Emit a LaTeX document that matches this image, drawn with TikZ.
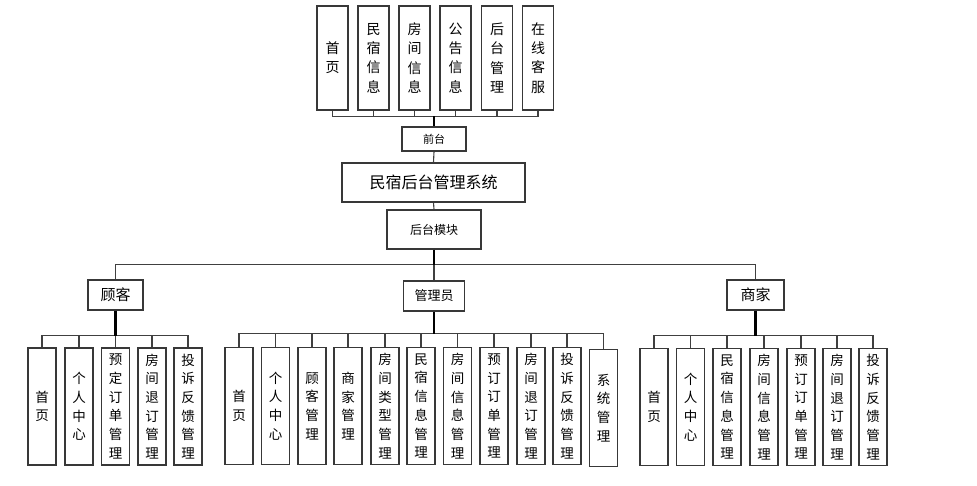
\documentclass[tikz,border=0pt]{standalone}
\usepackage{fontspec}
\newfontfamily\cjk{Noto Sans CJK SC}
\begin{document}
\begin{tikzpicture}[x=1pt,y=-1pt,
  box/.style={draw=black!78, line width=1.3pt, fill=white, inner sep=0pt, align=center},
  tbox/.style={box, minimum width=31pt, minimum height=104pt, font=\cjk\fontsize{14}{19.3}\selectfont},
  sbox/.style={box, minimum width=28pt, minimum height=117pt, font=\cjk\fontsize{13.5}{18.7}\selectfont},
  link/.style={draw=black!75, line width=1.1pt},
  trunk/.style={draw=black, line width=2.2pt}]
\useasboundingbox (0,0) rectangle (977,485);
% top row
\node[tbox] (t1) at (332.5,58) {首\\页};
\node[tbox] (t2) at (373.5,58) {民\\宿\\信\\息};
\node[tbox] (t3) at (414.5,58) {房\\间\\信\\息};
\node[tbox] (t4) at (455.5,58) {公\\告\\信\\息};
\node[tbox] (t5) at (497,58) {后\\台\\管\\理};
\node[tbox] (t6) at (538,58) {在\\线\\客\\服};
\node[box, minimum width=64pt, minimum height=24pt, font=\cjk\fontsize{11}{13}\selectfont] (qt) at (434,139) {前台};
\node[box, minimum width=183pt, minimum height=39pt, font=\cjk\fontsize{16}{19}\selectfont] (sys) at (433.5,182.5) {民宿后台管理系统};
\node[box, minimum width=94pt, minimum height=39pt, font=\cjk\fontsize{12}{14}\selectfont] (hm) at (434,229.5) {后台模块};
\node[box, minimum width=55pt, minimum height=30pt, font=\cjk\fontsize{15}{17}\selectfont] (gk) at (115.5,295) {顾客};
\node[box, minimum width=61pt, minimum height=30pt, font=\cjk\fontsize{13}{15}\selectfont] (gly) at (434,296) {管理员};
\node[box, minimum width=57pt, minimum height=30pt, font=\cjk\fontsize{15}{17}\selectfont] (sj) at (755.5,295) {商家};
% customer subs
\node[sbox] (g1) at (42,406.5) {首\\页};
\node[sbox] (g2) at (79,406.5) {个\\人\\中\\心};
\node[sbox] (g3) at (115.5,406.5) {预\\定\\订\\单\\管\\理};
\node[sbox] (g4) at (152,406.5) {房\\间\\退\\订\\管\\理};
\node[sbox] (g5) at (188,406.5) {投\\诉\\反\\馈\\管\\理};
% admin subs
\node[sbox] (a1) at (239,406) {首\\页};
\node[sbox] (a2) at (275.5,406) {个\\人\\中\\心};
\node[sbox] (a3) at (312,406) {顾\\客\\管\\理};
\node[sbox] (a4) at (348,406) {商\\家\\管\\理};
\node[sbox] (a5) at (385,406) {房\\间\\类\\型\\管\\理};
\node[sbox] (a6) at (421,406) {民\\宿\\信\\息\\管\\理};
\node[sbox] (a7) at (457.5,406) {房\\间\\信\\息\\管\\理};
\node[sbox] (a8) at (494,406) {预\\订\\订\\单\\管\\理};
\node[sbox] (a9) at (531,406) {房\\间\\退\\订\\管\\理};
\node[sbox] (a10) at (567,406) {投\\诉\\反\\馈\\管\\理};
\node[sbox] (a11) at (603.5,408) {系\\统\\管\\理};
% merchant subs
\node[sbox] (m1) at (654,407) {首\\页};
\node[sbox] (m2) at (690.5,407) {个\\人\\中\\心};
\node[sbox] (m3) at (727,407) {民\\宿\\信\\息\\管\\理};
\node[sbox] (m4) at (764,407) {房\\间\\信\\息\\管\\理};
\node[sbox] (m5) at (801,407) {预\\订\\订\\单\\管\\理};
\node[sbox] (m6) at (837,407) {房\\间\\退\\订\\管\\理};
\node[sbox] (m7) at (873,407) {投\\诉\\反\\馈\\管\\理};
% connectors top
\foreach \i in {1,...,6} \draw[link] (qt.north) -- ++(0,-10) -| (t\i.south);
\draw[trunk] (qt.north) -- ++(0,-10);
\draw[link] (qt.south) -- (sys.north);
\draw[link] (sys.south) -- (hm.north);
\draw[link] (hm.south) -- ++(0,15) -| (gk.north);
\draw[link] (hm.south) -- ++(0,15) -| (sj.north);
\draw[link] (hm.south) -- (gly.north);
\draw[trunk] (hm.south) -- ++(0,15);
% groups
\foreach \i in {1,...,5} \draw[link] (gk.south) -- ++(0,25) -| (g\i.north);
\draw[trunk] (gk.south) -- ++(0,25);
\foreach \i in {1,...,11} \draw[link] (gly.south) -- ++(0,22) -| (a\i.north);
\draw[trunk] (gly.south) -- ++(0,22);
\foreach \i in {1,...,7} \draw[link] (sj.south) -- ++(0,25) -| (m\i.north);
\draw[trunk] (sj.south) -- ++(0,25);
\end{tikzpicture}
\end{document}
